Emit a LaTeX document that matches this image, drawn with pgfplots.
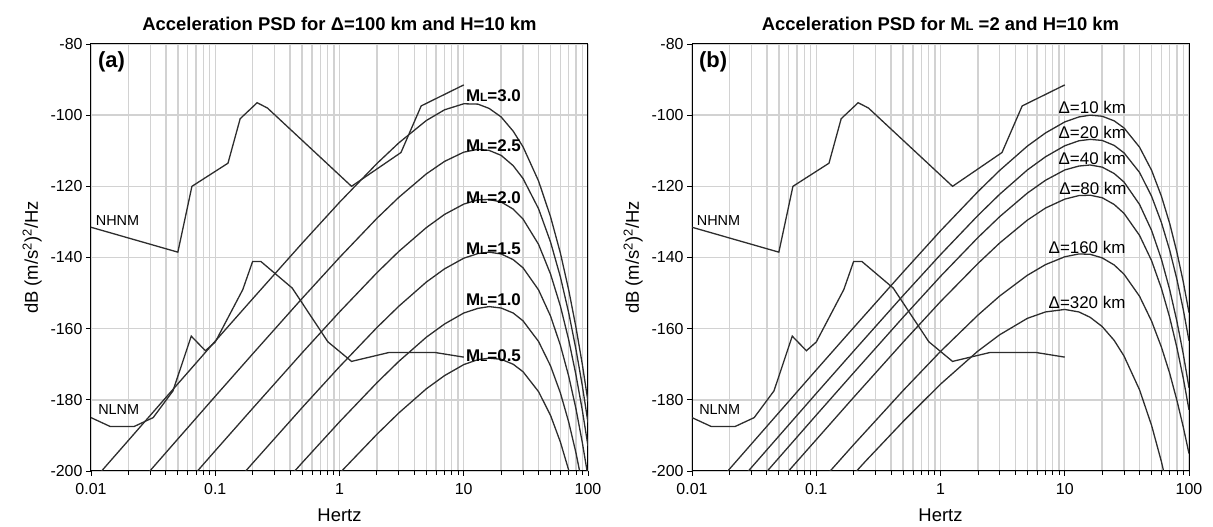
\documentclass[border=0pt]{standalone}
\usepackage{fontspec}
\setmainfont{Liberation Sans}
\usepackage{pgfplots}
\pgfplotsset{compat=1.18}
\definecolor{gridgray}{RGB}{210,210,210}
\definecolor{curvecol}{RGB}{45,45,45}
\newcommand{\ML}[1]{M{\fontsize{#1}{#1}\selectfont L}}
\tikzset{
  mllab/.style={anchor=west, inner sep=0pt, font=\bfseries\fontsize{17}{17}\selectfont},
  dlab/.style={anchor=west, inner sep=0pt, font=\fontsize{17}{17}\selectfont},
  nmlab/.style={anchor=west, inner sep=0pt, font=\fontsize{14.5}{14.5}\selectfont},
  panlab/.style={anchor=north west, inner sep=0pt, font=\bfseries\fontsize{22}{22}\selectfont},
}
\pgfplotsset{every axis/.append style={
  xmode=log, log basis x=10,
  scale only axis, width=497bp, height=427bp,
  xmin=0.01, xmax=100, ymin=-200, ymax=-80,
  xtick={0.01,0.1,1,10,100}, xticklabels={0.01,0.1,1,10,100},
  minor xtick={0.02,0.03,0.04,0.05,0.06,0.07,0.08,0.09,0.2,0.3,0.4,0.5,0.6,0.7,0.8,0.9,2,3,4,5,6,7,8,9,20,30,40,50,60,70,80,90},
  ytick={-200,-180,-160,-140,-120,-100,-80},
  yticklabels={-200,-180,-160,-140,-120,-100,-80},
  grid=both,
  major grid style={gridgray, line width=1.4bp},
  minor grid style={gridgray, line width=1.4bp},
  tick align=outside, tick pos=left,
  major tick length=5bp, minor tick length=4bp,
  tick style={black, line width=0.8bp},
  axis line style={black, line width=1bp},
  ticklabel style={font=\fontsize{16}{16}\selectfont},
  xticklabel style={yshift=-4bp},
  label style={font=\fontsize{18.5}{18.5}\selectfont},
  xlabel={Hertz},
  xlabel style={yshift=-7bp},
  ylabel={dB (m/s\textsuperscript{2})\textsuperscript{2}/Hz},
  ylabel style={yshift=2bp},
  title style={font=\bfseries\fontsize{18.5}{18.5}\selectfont, yshift=4bp},
  cycle list={curvecol,line width=1.3bp\\},
  no marks,
}}
\begin{document}
\begin{tikzpicture}
\useasboundingbox (0,0) rectangle (1213bp,527bp);
% ---------------- panel (a)
\begin{axis}[at={(91bp,56bp)}, anchor=south west,
  title={Acceleration PSD for Δ=100 km and H=10 km}]
% NHNM
\addplot coordinates {(0.01,-131.5) (0.05,-138.5) (0.0649,-120.0) (0.1266,-113.5) (0.1587,-101.0) (0.2174,-96.5) (0.2632,-98.0) (1.25,-120.0) (3.125,-110.5) (4.545,-97.4) (10,-91.5)};
% NLNM
\addplot coordinates {(0.01,-185.0) (0.01429,-187.5) (0.02222,-187.5) (0.03165,-185.0) (0.04566,-177.5) (0.0641,-162.1) (0.0833,-166.2) (0.1,-163.75) (0.1667,-149.0) (0.2,-141.1) (0.2326,-141.1) (0.4167,-148.6) (0.8065,-163.7) (1.25,-169.2) (2.5,-166.7) (5.882,-166.7) (10,-168.0)};
% ML = 3.0
\addplot coordinates {(0.01,-203.4) (0.02,-191.4) (0.05,-175.5) (0.1,-163.5) (0.2,-151.6) (0.5,-136.0) (1,-124.5) (2,-113.6) (3,-107.8) (5,-101.5) (7,-98.5) (10,-96.8) (13,-96.9) (16,-98.1) (20,-100.5) (25,-104.5) (30,-108.9) (40,-118.5) (50,-128.6) (60,-138.8) (70,-149.2) (80,-159.6) (90,-170.0) (100,-180.5)};
% ML = 2.5
\addplot coordinates {(0.02,-206.9) (0.05,-191.0) (0.1,-179.0) (0.2,-167.1) (0.5,-151.5) (1,-140.0) (2,-129.0) (3,-123.1) (5,-116.5) (7,-113.0) (10,-110.4) (13,-109.6) (16,-109.9) (20,-111.3) (25,-114.2) (30,-117.8) (40,-126.3) (50,-135.7) (60,-145.5) (70,-155.6) (80,-165.8) (90,-176.0) (100,-186.4)};
% ML = 2.0
\addplot coordinates {(0.05,-206.3) (0.1,-194.3) (0.2,-182.4) (0.5,-166.8) (1,-155.3) (2,-144.3) (3,-138.3) (5,-131.6) (7,-127.9) (10,-125.0) (13,-123.8) (16,-123.7) (20,-124.4) (25,-126.4) (30,-129.2) (40,-136.3) (50,-144.7) (60,-153.7) (70,-163.2) (80,-173.0) (90,-182.9) (100,-193.0)};
% ML = 1.5
\addplot coordinates {(0.1,-209.7) (0.2,-197.8) (0.5,-182.2) (1,-170.7) (2,-159.7) (3,-153.7) (5,-146.9) (7,-143.2) (10,-140.2) (13,-138.9) (16,-138.5) (20,-139.0) (25,-140.6) (30,-142.9) (40,-149.1) (50,-156.5) (60,-164.7) (70,-173.4) (80,-182.5) (90,-192.0) (100,-201.6)};
% ML = 1.0
\addplot coordinates {(0.3,-206.3) (0.5,-197.7) (1,-186.2) (2,-175.2) (3,-169.2) (5,-162.4) (7,-158.7) (10,-155.6) (13,-154.3) (16,-153.8) (20,-154.2) (25,-155.6) (30,-157.8) (40,-163.6) (50,-170.5) (60,-178.1) (70,-186.3) (80,-194.9) (90,-203.8)};
% ML = 0.5
\addplot coordinates {(0.8,-204.3) (1,-200.65) (2,-189.7) (3,-183.7) (5,-176.9) (7,-173.2) (10,-170.1) (13,-168.7) (16,-168.3) (20,-168.6) (25,-170.0) (30,-172.1) (40,-177.7) (50,-184.4) (60,-191.9) (70,-199.8) (80,-208.1)};
\node[panlab] at (rel axis cs:0.014,0.982) {(a)};
\node[nmlab] at (axis cs:0.0109,-129.7) {NHNM};
\node[nmlab] at (axis cs:0.0114,-182.8) {NLNM};
\node[mllab] at (axis cs:10.4,-94.6) {\ML{12}=3.0};
\node[mllab] at (axis cs:10.4,-108.7) {\ML{12}=2.5};
\node[mllab] at (axis cs:10.4,-123.1) {\ML{12}=2.0};
\node[mllab] at (axis cs:10.4,-137.6) {\ML{12}=1.5};
\node[mllab] at (axis cs:10.4,-151.9) {\ML{12}=1.0};
\node[mllab] at (axis cs:10.4,-167.6) {\ML{12}=0.5};
\end{axis}
% ---------------- panel (b)
\begin{axis}[at={(692bp,56bp)}, anchor=south west,
  title={Acceleration PSD for \ML{13} =2 and H=10 km}]
% NHNM
\addplot coordinates {(0.01,-131.5) (0.05,-138.5) (0.0649,-120.0) (0.1266,-113.5) (0.1587,-101.0) (0.2174,-96.5) (0.2632,-98.0) (1.25,-120.0) (3.125,-110.5) (4.545,-97.4) (10,-91.5)};
% NLNM
\addplot coordinates {(0.01,-185.0) (0.01429,-187.5) (0.02222,-187.5) (0.03165,-185.0) (0.04566,-177.5) (0.0641,-162.1) (0.0833,-166.2) (0.1,-163.75) (0.1667,-149.0) (0.2,-141.1) (0.2326,-141.1) (0.4167,-148.6) (0.8065,-163.7) (1.25,-169.2) (2.5,-166.7) (5.882,-166.7) (10,-168.0)};
% Delta = 10 km
\addplot coordinates {(0.018,-201.3) (0.05,-183.6) (0.1,-171.6) (0.2,-159.7) (0.5,-144.1) (1,-132.5) (2,-121.5) (3,-115.5) (5,-108.7) (7,-105.0) (10,-101.9) (13,-100.5) (16,-100.0) (20,-100.3) (25,-101.6) (30,-103.6) (40,-109.0) (50,-115.5) (60,-122.8) (70,-130.5) (80,-138.6) (90,-146.9) (100,-155.5)};
% Delta = 20 km
\addplot coordinates {(0.02,-206.1) (0.05,-190.2) (0.1,-178.2) (0.2,-166.3) (0.5,-150.7) (1,-139.2) (2,-128.2) (3,-122.2) (5,-115.4) (7,-111.7) (10,-108.6) (13,-107.2) (16,-106.8) (20,-107.1) (25,-108.5) (30,-110.6) (40,-116.1) (50,-122.8) (60,-130.2) (70,-138.0) (80,-146.2) (90,-154.7) (100,-163.4)};
% Delta = 40 km
\addplot coordinates {(0.02,-212.2) (0.05,-196.3) (0.1,-184.3) (0.2,-172.4) (0.5,-156.8) (1,-145.3) (2,-134.4) (3,-128.5) (5,-121.9) (7,-118.3) (10,-115.4) (13,-114.3) (16,-114.0) (20,-114.6) (25,-116.4) (30,-118.8) (40,-125.1) (50,-132.4) (60,-140.5) (70,-149.1) (80,-158.0) (90,-167.2) (100,-176.6)};
% Delta = 80 km
\addplot coordinates {(0.05,-203.1) (0.1,-191.2) (0.2,-179.3) (0.5,-163.8) (1,-152.4) (2,-141.7) (3,-135.9) (5,-129.5) (7,-126.1) (10,-123.6) (13,-122.6) (16,-122.5) (20,-123.2) (25,-125.1) (30,-127.6) (40,-133.8) (50,-140.9) (60,-148.7) (70,-156.9) (80,-165.4) (90,-174.0) (100,-182.8)};
% Delta = 160 km
\addplot coordinates {(0.1,-204.4) (0.2,-192.6) (0.5,-177.4) (1,-166.4) (2,-156.2) (3,-150.8) (5,-145.0) (7,-142.0) (10,-139.8) (13,-139.0) (16,-139.1) (20,-140.1) (25,-142.1) (30,-144.7) (40,-150.9) (50,-157.9) (60,-165.2) (70,-172.6) (80,-180.2) (90,-187.7) (100,-195.1)};
% Delta = 320 km
\addplot coordinates {(0.2,-200.9) (0.25,-197.2) (0.5,-186.1) (1,-175.6) (2,-166.3) (3,-161.7) (5,-157.1) (7,-155.3) (10,-154.6) (13,-155.3) (16,-156.8) (20,-159.4) (25,-163.3) (30,-167.7) (40,-177.2) (50,-187.2) (60,-197.4) (70,-207.6)};
\node[panlab] at (rel axis cs:0.014,0.982) {(b)};
\node[nmlab] at (axis cs:0.0109,-129.7) {NHNM};
\node[nmlab] at (axis cs:0.0114,-182.8) {NLNM};
\node[dlab] at (axis cs:8.9,-97.9) {Δ=10 km};
\node[dlab] at (axis cs:8.9,-104.8) {Δ=20 km};
\node[dlab] at (axis cs:8.9,-112.3) {Δ=40 km};
\node[dlab] at (axis cs:9.0,-120.5) {Δ=80 km};
\node[dlab] at (axis cs:7.4,-137.1) {Δ=160 km};
\node[dlab] at (axis cs:7.4,-152.7) {Δ=320 km};
\end{axis}
\end{tikzpicture}
\end{document}
